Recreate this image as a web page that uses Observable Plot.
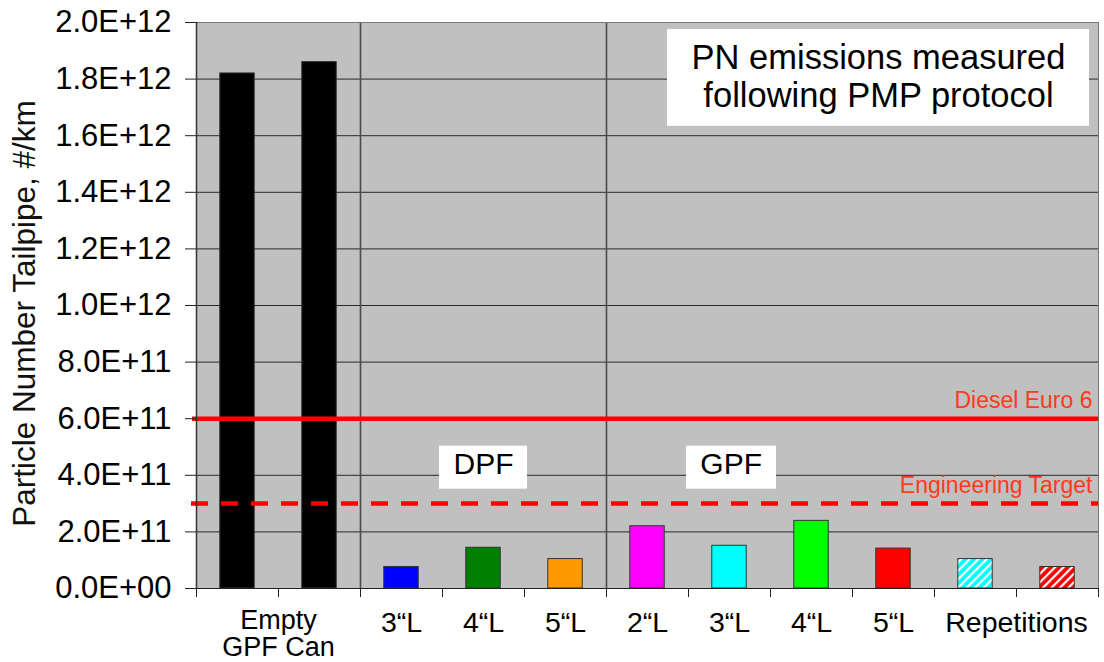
<!DOCTYPE html>
<html>
<head>
<meta charset="utf-8">
<script src="https://cdn.jsdelivr.net/npm/d3@7"></script>
<script src="https://cdn.jsdelivr.net/npm/@observablehq/plot@0.6"></script>
<style>
  body { margin: 0; background: #fff; }
  #chart svg { display: block; }
</style>
</head>
<body>
<div id="chart"></div>
<script>
// ---- data ----
const slotIds = ["empty1", "empty2", "dpf3", "dpf4", "dpf5", "gpf2", "gpf3", "gpf4", "gpf5", "rep1", "rep2"];
const values = [1.82e12, 1.86e12, 7.6e10, 1.44e11, 1.04e11, 2.20e11, 1.51e11, 2.39e11, 1.41e11, 1.04e11, 7.6e10];
const barColors = ["#000000", "#000000", "#0000ff", "#008000", "#ff9900", "#ff00ff", "#00ffff", "#00ff00", "#ff0000", "url(#hatchCyan)", "url(#hatchRed)"];
const groupLabels = ["Empty\nGPF Can", "3“L", "4“L", "5“L", "2“L", "3“L", "4“L", "5“L", "Repetitions"];
const groupSpans = [2, 1, 1, 1, 1, 1, 1, 1, 2];
const separatorsAfter = ["empty2", "dpf5"];
const yTicks = [0, 2e11, 4e11, 6e11, 8e11, 1e12, 1.2e12, 1.4e12, 1.6e12, 1.8e12, 2e12];
const limitLabels = ["Diesel Euro 6", "Engineering Target"];
const limitValues = [6e11, 3e11];
const sectionLabels = ["DPF", "GPF"];
const titleText = "PN emissions measured\nfollowing PMP protocol";
const yLabel = "Particle Number Tailpipe, #/km";

// ---- derived tables ----
const bars = slotIds.map((id, i) => ({id, slot: i, value: values[i], color: barColors[i]}));
let acc = 0;
const groups = groupLabels.map((label, i) => { const c = acc + groupSpans[i] / 2; acc += groupSpans[i]; return {label, center: c}; });
const separators = separatorsAfter.map(id => slotIds.indexOf(id) + 1);
const limits = limitLabels.map((label, i) => ({label, value: limitValues[i]}));

const sci = v => {
  if (v === 0) return "0.0E+00";
  const e = Math.floor(Math.log10(v) + 1e-9);
  const m = v / Math.pow(10, e);
  return m.toFixed(1) + "E+" + String(e).padStart(2, "0");
};

const FONT = "'Liberation Sans', Arial, sans-serif";

const plot = Plot.plot({
  width: 1104,
  height: 662,
  marginLeft: 196,
  marginRight: 6,
  marginTop: 22,
  marginBottom: 74,
  style: {fontFamily: FONT, background: "#fff", color: "#000", overflow: "visible"},
  x: {type: "linear", domain: [0, slotIds.length], axis: null},
  y: {domain: [0, 2e12], axis: null},
  color: {type: "identity"},
  marks: [
    Plot.frame({fill: "#c0c0c0", stroke: null}),
    Plot.ruleY(yTicks.filter(t => t > 0 && t < 2e12), {stroke: "#2a2a2a", strokeWidth: 1}),
    Plot.ruleX(separators, {stroke: "#4a4a4a", strokeWidth: 1.6}),
    Plot.rect(bars, {x1: d => d.slot + 0.29, x2: d => d.slot + 0.71, y1: 0, y2: "value", fill: "color", stroke: "#333", strokeWidth: 1}),
    // annotation boxes
    Plot.rect([titleText], {x1: 5.744, x2: 10.89, y1: 1.633e12, y2: 1.975e12, fill: "#fff"}),
    Plot.rect([sectionLabels[0]], {x1: 2.963, x2: 4.037, y1: 3.51e11, y2: 5.03e11, fill: "#fff"}),
    Plot.rect([sectionLabels[1]], {x1: 5.976, x2: 7.073, y1: 3.51e11, y2: 5.03e11, fill: "#fff"}),
    Plot.text([titleText], {x: 8.317, y: 1.8125e12, text: d => d, fontSize: 34.5, lineHeight: 1.1, fill: "#000"}),
    Plot.text([sectionLabels[0]], {x: 3.5, y: 4.38e11, text: d => d, fontSize: 30, fill: "#000"}),
    Plot.text([sectionLabels[1]], {x: 6.52, y: 4.38e11, text: d => d, fontSize: 30, fill: "#000"}),
    // limit lines
    Plot.ruleY([limits[0]], {y: "value", stroke: "#ff0000", strokeWidth: 4.5, insetLeft: -4}),
    Plot.ruleY([limits[1]], {y: "value", stroke: "#ff0000", strokeWidth: 4.5, strokeDasharray: "17,13", insetLeft: -5}),
    Plot.text(limits, {y: "value", text: "label", frameAnchor: "right", textAnchor: "end", lineAnchor: "bottom", dx: -6, dy: -11, fontSize: 23, fill: "#ff3a1a"}),
    // axes
    Plot.frame({stroke: "#777", strokeWidth: 1}),
    Plot.ruleY([0], {stroke: "#222", strokeWidth: 1.2}),
    Plot.ruleX([0], {stroke: "#333", strokeWidth: 1.5}),
    Plot.axisY({ticks: yTicks, tickFormat: sci, tickSize: 11, tickPadding: 14, fontSize: 31, label: null, stroke: "#222"}),
    Plot.axisX({ticks: d3.range(slotIds.length + 1), tickFormat: () => "", tickSize: 9, label: null, stroke: "#222"}),
    Plot.text(groups.filter(g => !g.label.includes("\n")), {x: "center", y: 0, text: "label", lineAnchor: "top", dy: 23.5, fontSize: 28.5, fill: "#000"}),
    Plot.text(groups.filter(g => g.label.includes("\n")), {x: "center", y: 0, text: "label", lineAnchor: "top", dy: 21.5, fontSize: 27, lineHeight: 1.0, fill: "#000"}),
    Plot.text([yLabel], {frameAnchor: "left", text: d => d, rotate: -90, textAnchor: "middle", dx: -172, dy: 8, fontSize: 31.5, fill: "#111"})
  ]
});

const svg = d3.select(plot);
const defs = svg.insert("defs", ":first-child");
[["hatchCyan", "#00ffff"], ["hatchRed", "#ff0000"]].forEach(([id, c]) => {
  const p = defs.append("pattern").attr("id", id).attr("patternUnits", "userSpaceOnUse")
    .attr("width", 6).attr("height", 6).attr("patternTransform", "rotate(45)");
  p.append("rect").attr("width", 6).attr("height", 6).attr("fill", c);
  p.append("rect").attr("width", 2.2).attr("height", 6).attr("fill", "#fff");
});

document.getElementById("chart").appendChild(plot);
</script>
</body>
</html>
